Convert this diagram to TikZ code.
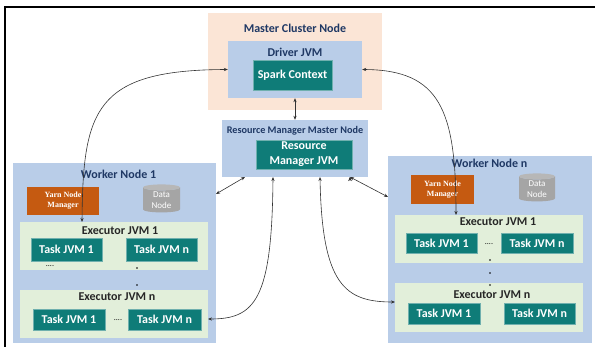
\documentclass[tikz,border=0pt]{standalone}
\usepackage{fontspec}
\setmainfont{Carlito}
\newfontfamily\yarnfont{Liberation Serif}
\usetikzlibrary{shapes.geometric, arrows.meta, positioning}

\definecolor{peach}{HTML}{FBE5D6}
\definecolor{paleblue}{HTML}{B9CDE8}
\definecolor{palegreen}{HTML}{E2EFDA}
\definecolor{tealbox}{HTML}{0F7C78}
\definecolor{rust}{HTML}{C55A11}
\definecolor{navy}{HTML}{1F3864}
\definecolor{cylgray}{HTML}{A5A5A5}

\begin{document}
\begin{tikzpicture}[x=1pt, y=-1pt,
    sized/.style 2 args={inner sep=0pt, minimum width=#1, minimum height=#2},
    title/.style={inner sep=0pt, text=navy, font=\bfseries\fontsize{12}{14}\selectfont},
    exlabel/.style={inner sep=0pt, text=black!85, font=\bfseries\fontsize{12}{14}\selectfont},
    task/.style={fill=tealbox, draw=tealbox!60, line width=0.4pt, text=white, align=center,
        font=\bfseries\fontsize{12}{15}\selectfont},
    yarn/.style={fill=rust, text=white, align=center, font=\yarnfont\bfseries\fontsize{8}{10}\selectfont},
    datanode/.style={cylinder, shape border rotate=90, aspect=0.3, inner sep=0pt,
        cylinder uses custom fill, cylinder body fill=cylgray, cylinder end fill=cylgray!80,
        minimum width=37, minimum height=28, align=center, text=white,
        font=\fontsize{9}{11.5}\selectfont},
    dots/.style={inner sep=0pt, font=\fontsize{8}{8}\selectfont},
    conn/.style={<->, >={Stealth[length=4pt, width=3.2pt]}, draw=black!80, line width=0.6pt}]

    \useasboundingbox (0,0) rectangle (595,347);
    \draw[line width=2pt] (5,347) -- (5,7) -- (595,7);

    % master side
    \node[fill=peach, sized={174}{97}] (master) at (295,61.5) {};
    \node[title] (mastertitle) at (295,28) {Master Cluster Node};
    \node[fill=paleblue, sized={134}{57}] (driver) at (295,69.5) {};
    \node[title] (drivertitle) at (295,52) {Driver JVM};
    \node[task, sized={79}{30}] (spark) at (292.5,75) {Spark Context};

    \node[fill=paleblue, sized={146}{57}] (rmnode) at (295,148.5) {};
    \node[title, font=\bfseries\fontsize{10.2}{12}\selectfont] (rmtitle) at (295,131) {Resource Manager Master Node};
    \node[task, sized={96}{29}] (rmjvm) at (304,154.5) {Resource\\Manager JVM};

    % worker node 1
    \node[fill=paleblue, sized={203}{180}] (w1) at (114.5,253) {};
    \node[title] (w1title) at (118.5,174) {Worker Node 1};
    \node[yarn, sized={72}{28}] (yarn1) at (63,201) {Yarn Node\\Manager};
    \node[datanode] (data1) at (161.5,200) {Data\\Node};
    \node[fill=palegreen, sized={188}{48}] (e11) at (114,246) {};
    \node[exlabel] (e11label) at (120,231) {Executor JVM 1};
    \node[task, sized={71}{23}] (t111) at (66.5,249.5) {Task JVM 1};
    \node[task, sized={71}{23}] (t11n) at (161.5,249.5) {Task JVM n};
    \node[dots] (d11) at (50,266) {....};
    \node[fill=palegreen, sized={188}{48}] (e1n) at (114,314) {};
    \node[exlabel] (e1nlabel) at (117,297) {Executor JVM n};
    \node[task, sized={72}{21}] (t1n1) at (69,319.5) {Task JVM 1};
    \node[task, sized={73}{21}] (t1nn) at (164.5,319.5) {Task JVM n};
    \node[dots] (d1n) at (118,320) {....};
    \foreach \y in {268,285}
        \fill (137,\y) circle (0.8);

    % worker node n
    \node[fill=paleblue, sized={204}{187}] (wn) at (490,249.5) {};
    \node[title] (wntitle) at (489.5,163) {Worker Node n};
    \node[yarn, sized={63}{29}] (yarnn) at (442.5,189.5) {Yarn Node\\Manager};
    \node[datanode, minimum width=36] (datan) at (537,189) {Data\\Node};
    \node[fill=palegreen, sized={188}{48}] (en1) at (489,239) {};
    \node[exlabel] (en1label) at (498,222) {Executor JVM 1};
    \node[task, sized={71}{20}] (tn11) at (441.5,243) {Task JVM 1};
    \node[task, sized={72}{20}] (tn1n) at (537,243) {Task JVM n};
    \node[dots] (dn1) at (489,244) {....};
    \node[fill=palegreen, sized={188}{49}] (enn) at (489,307.5) {};
    \node[exlabel] (ennlabel) at (492,295) {Executor JVM n};
    \node[task, sized={72}{21}] (tnn1) at (444,313.5) {Task JVM 1};
    \node[task, sized={71}{21}] (tnnn) at (539.5,313.5) {Task JVM n};
    \foreach \y in {260,273,285}
        \fill (490,\y) circle (0.8);

    % connector ends
    \coordinate (rmA) at (245,177);
    \coordinate (rmB) at (273,177);
    \coordinate (rmC) at (320,177);
    \coordinate (rmD) at (350,177);
    \coordinate (w1in) at (216,194);
    \coordinate (wnin) at (388,197);
    \coordinate (e11in) at (82,222);
    \coordinate (en1in) at (456,215);
    \coordinate (e1nin) at (208,319);
    \coordinate (ennin) at (395,302);

    \path[conn]
        (driver.south) edge (rmnode.north)
        (rmA) edge (w1in)
        (rmD) edge (wnin);
    \draw[conn] (driver.west) .. controls (95,70) and (83,110) .. (e11in);
    \draw[conn] (driver.east) .. controls (440,70) and (456,110) .. (en1in);
    \draw[conn] (rmB) .. controls (272,300) and (255,319) .. (e1nin);
    \draw[conn] (rmC) .. controls (322,285) and (345,302) .. (ennin);
\end{tikzpicture}
\end{document}
